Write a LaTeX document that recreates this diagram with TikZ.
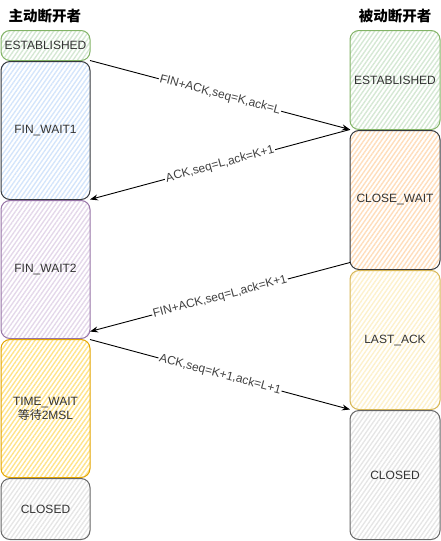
\documentclass[tikz,border=0pt]{standalone}
\usepackage{fontspec}
\setmainfont{Liberation Sans}
\newfontfamily\cjk{Noto Sans CJK SC}
\usepackage{xcolor}
\usetikzlibrary{arrows.meta, positioning, patterns.meta}
\definecolor{estgreen}{HTML}{82B366}
\definecolor{estfill}{HTML}{D5E8D4}
\definecolor{darkline}{HTML}{36393D}
\definecolor{bluefill}{HTML}{D4E5FB}
\definecolor{purpleline}{HTML}{9673A6}
\definecolor{purplefill}{HTML}{E4D8EA}
\definecolor{goldline}{HTML}{E3A500}
\definecolor{goldfill}{HTML}{FFE38A}
\definecolor{peachfill}{HTML}{FFDDBB}
\definecolor{sandline}{HTML}{D6B656}
\definecolor{sandfill}{HTML}{FDF1CC}
\definecolor{grayline}{HTML}{666666}
\definecolor{grayfill}{HTML}{E6E6E6}

\begin{document}
\begin{tikzpicture}[
    x=1pt, y=1pt,
    state/.style={rectangle, rounded corners=9pt, line width=1pt,
                  outer sep=0pt, align=center, text=black!80,
                  font=\fontsize{12}{14}\selectfont},
    hatch/.style={pattern={Lines[angle=55, distance=3.6pt, line width=1.4pt]},
                  pattern color=#1},
    lefty/.style={state, minimum width=89pt},
    righty/.style={state, minimum width=90pt},
    title/.style={font=\fontsize{14.5}{16}\selectfont\cjk\bfseries},
    arr/.style={-{Stealth[length=8pt, width=6pt]}, line width=0.9pt, black},
    lbl/.style={sloped, fill=white, inner sep=1pt, text=black!75,
                font=\fontsize{12}{14}\selectfont}
]
\useasboundingbox (0,0) rectangle (441,-541);

% Titles
\node[title] (activeT)  at (45,-16)  {主动断开者};
\node[title] (passiveT) at (395,-16) {被动断开者};

% Column 1: active side
\node[lefty, draw=estgreen, hatch=estfill, minimum height=30pt]
      (est1) at (45.5,-45.5) {ESTABLISHED};
\node[lefty, draw=darkline, hatch=bluefill, minimum height=138pt,
      below=1pt of est1] (fw1) {FIN\_WAIT1};
\node[lefty, draw=purpleline, hatch=purplefill, minimum height=138pt,
      below=1pt of fw1] (fw2) {FIN\_WAIT2};
\node[lefty, draw=goldline, hatch=goldfill, minimum height=138pt,
      below=1pt of fw2] (tw) {TIME\_WAIT\\{\cjk 等待}2MSL};
\node[lefty, draw=grayline, hatch=grayfill, minimum height=61pt,
      below=1pt of tw] (cl1) {CLOSED};

% Column 2: passive side
\node[righty, draw=estgreen, hatch=estfill, minimum height=99pt]
      (est2) at (395,-80) {ESTABLISHED};
\node[righty, draw=darkline, hatch=peachfill, minimum height=139pt,
      below=1pt of est2] (cw) {CLOSE\_WAIT};
\node[righty, draw=sandline, hatch=sandfill, minimum height=139pt,
      below=1pt of cw] (la) {LAST\_ACK};
\node[righty, draw=grayline, hatch=grayfill, minimum height=129pt,
      below=1pt of la] (cl2) {CLOSED};

% Arrows
\draw[arr] (est1.south east) -- node[lbl]{FIN+ACK,seq=K,ack=L} (est2.south west);
\draw[arr] (est2.south west) -- node[lbl]{ACK,seq=L,ack=K+1} (fw1.south east);
\draw[arr] ([yshift=7pt]cw.south west) -- node[lbl]{FIN+ACK,seq=L,ack=K+1} ([yshift=7pt]fw2.south east);
\draw[arr] (tw.north east) -- node[lbl]{ACK,seq=K+1,ack=L+1} (la.south west);

\end{tikzpicture}
\end{document}
